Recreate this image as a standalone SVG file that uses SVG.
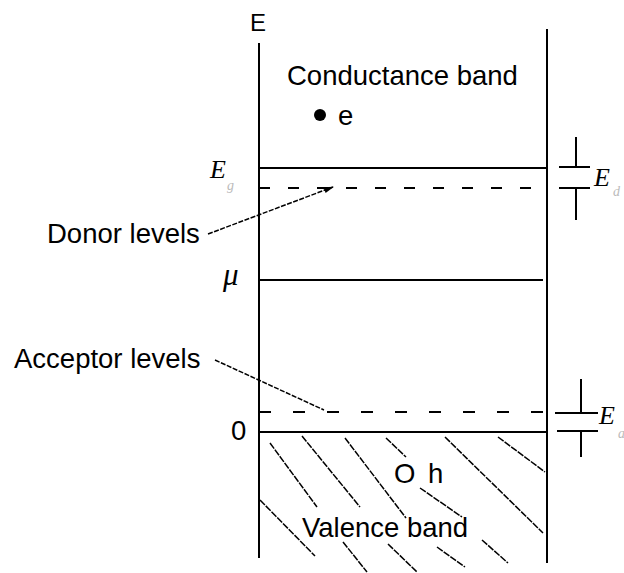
<svg xmlns="http://www.w3.org/2000/svg" width="624" height="573" viewBox="0 0 624 573">
<style>
.ln{stroke:#000;stroke-width:2;fill:none}
.dl{stroke:#000;stroke-width:2;fill:none}
.ld{stroke:#000;stroke-width:1.5;fill:none;stroke-dasharray:5 1.5}
.ht{stroke:#000;stroke-width:1.5;fill:none;stroke-dasharray:7 1.2}
.t{font-family:"Liberation Sans",Arial,sans-serif;font-size:27.5px;fill:#000}
.it{font-family:"Liberation Serif","Times New Roman",serif;font-style:italic;font-size:26px;fill:#000}
.sub{font-family:"Liberation Serif","Times New Roman",serif;font-style:italic;font-size:14px;fill:#bbb}
</style>
<defs>
<marker id="ah" markerWidth="10" markerHeight="8" refX="9" refY="4" orient="auto" markerUnits="userSpaceOnUse">
<path d="M0,1 L10,4 L0,7 Z" fill="#000"/>
</marker>
</defs>
<g id="frame">
<line class="ln" x1="259" y1="43" x2="259" y2="558"/>
<line class="ln" x1="547" y1="29" x2="547" y2="563"/>
<text class="t" x="250" y="31" style="font-size:24px">E</text>
</g>
<g id="conduction">
<line class="ln" x1="259" y1="168" x2="547" y2="168"/>
<text class="t" x="287" y="85">Conductance band</text>
<circle cx="320" cy="115" r="6" fill="#000"/>
<text class="t" x="338" y="125">e</text>
<text class="it" x="210" y="178">E</text>
<text class="sub" x="227" y="190">g</text>
</g>
<g id="donor">
<line class="dl" x1="259" y1="188" x2="549" y2="188" style="stroke-dasharray:11 18"/>
<text class="t" x="47" y="243">Donor levels</text>
</g>
<g id="mu">
<line class="ln" x1="259" y1="280" x2="543" y2="280"/>
<text class="it" x="223" y="285" style="font-size:31px">μ</text>
</g>
<g id="acceptor">
<line class="dl" x1="259" y1="412" x2="550" y2="412" style="stroke-dasharray:12 22"/>
<text class="t" x="14" y="368">Acceptor levels</text>
</g>
<g id="valence">
<line class="ln" x1="259" y1="432" x2="547" y2="432"/>
<text class="t" x="231" y="440">0</text>
<text class="t" x="394" y="483">O</text>
<text class="t" x="428" y="483">h</text>
<text class="t" x="302" y="537">Valence band</text>
<g id="hatch">
<line class="ht" x1="270" y1="443" x2="317" y2="507"/>
<line class="ht" x1="302" y1="436" x2="360" y2="507"/>
<line class="ht" x1="345" y1="438" x2="406" y2="518"/>
<line class="ht" x1="386" y1="438" x2="406" y2="457"/>
<line class="ht" x1="445" y1="437" x2="543" y2="533"/>
<line class="ht" x1="498" y1="437" x2="545" y2="472"/>
<line class="ht" x1="260" y1="500" x2="315" y2="556"/>
<line class="ht" x1="420" y1="488" x2="462" y2="517"/>
<line class="ht" x1="343" y1="542" x2="367" y2="572"/>
<line class="ht" x1="388" y1="544" x2="417" y2="572"/>
<line class="ht" x1="437" y1="547" x2="465" y2="567"/>
<line class="ht" x1="482" y1="540" x2="508" y2="563"/>
</g>
</g>
<g id="Ed">
<line class="ln" x1="576" y1="137" x2="576" y2="167"/>
<line class="ln" x1="559" y1="167" x2="590" y2="167"/>
<line class="ln" x1="559" y1="188" x2="590" y2="188"/>
<line class="ln" x1="576" y1="188" x2="576" y2="220"/>
<text class="it" x="594" y="186">E</text>
<text class="sub" x="613" y="196">d</text>
</g>
<g id="Ea">
<line class="ln" x1="581" y1="379" x2="581" y2="413"/>
<line class="ln" x1="555" y1="413" x2="598" y2="413"/>
<line class="ln" x1="557" y1="431" x2="598" y2="431"/>
<line class="ln" x1="581" y1="431" x2="581" y2="457"/>
<text class="it" x="599" y="424">E</text>
<text class="sub" x="618" y="438">a</text>
</g>
<g id="connectors">
<line class="ld" x1="208" y1="234" x2="333" y2="187" marker-end="url(#ah)"/>
<line class="ld" x1="215" y1="360" x2="324" y2="410"/>
</g>
</svg>
